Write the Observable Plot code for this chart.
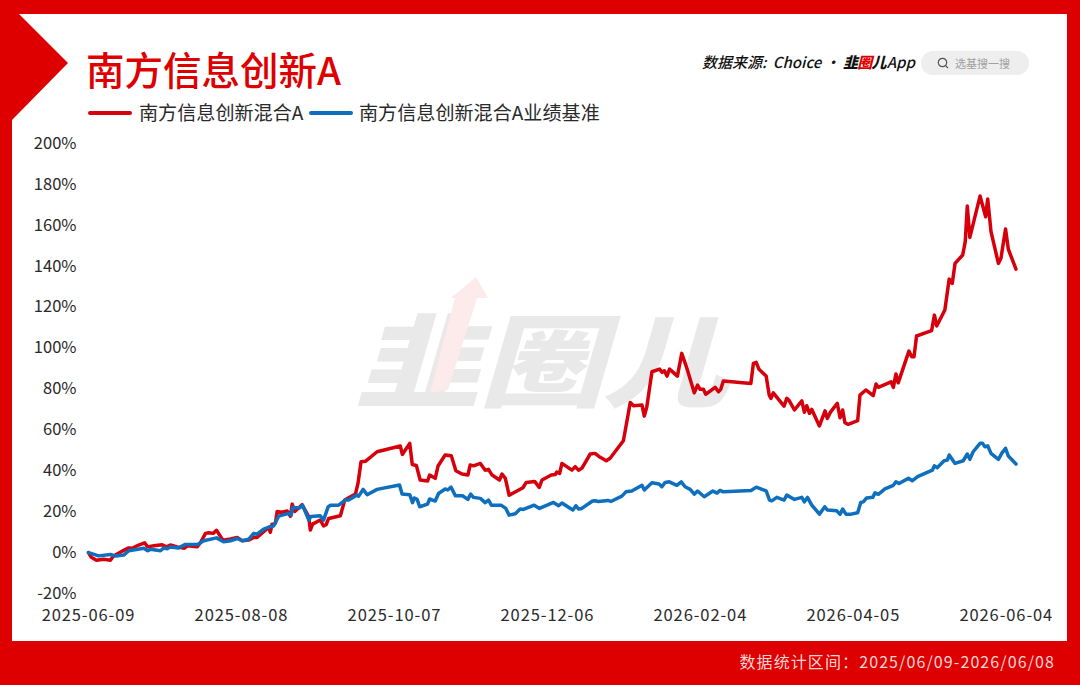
<!DOCTYPE html>
<html lang="zh">
<head>
<meta charset="utf-8">
<script src="https://cdn.jsdelivr.net/npm/d3@7"></script>
<script src="https://cdn.jsdelivr.net/npm/@observablehq/plot@0.6"></script>
<style>
html,body{margin:0;padding:0;overflow:hidden;background:#de0000;}
#page{position:relative;width:1080px;height:685px;overflow:hidden;background:#de0000;font-family:"Noto Sans CJK SC",sans-serif;}
#panel{position:absolute;left:12px;top:14px;width:1055px;height:627px;background:#fff;}
#corner{position:absolute;left:12px;top:14px;width:58px;height:108px;background:#de0000;clip-path:polygon(0 0,7px 0,56px 49px,0 106px);}
#arrow{position:absolute;left:425px;top:275px;width:70px;height:125px;}
#mark{position:absolute;left:350px;top:265px;font-size:126px;line-height:150px;font-weight:900;color:#e9e9e9;transform:skewX(-16deg) scale(1,.8);transform-origin:50% 100%;white-space:nowrap;letter-spacing:-2px;}
#chart{position:absolute;left:0;top:0;}
#title{position:absolute;left:86px;top:42px;font-size:38.5px;line-height:52px;font-weight:500;color:#de0000;white-space:nowrap;}
.key{position:absolute;top:98px;font-size:19.1px;line-height:28px;color:#2a2a2a;white-space:nowrap;}
.swatch{position:absolute;top:111px;width:44px;height:3.5px;border-radius:2px;}
#source{position:absolute;left:702px;top:51px;font-size:15px;line-height:22px;font-weight:500;font-style:italic;color:#111;white-space:nowrap;}
#source b{font-weight:900;letter-spacing:-.8px;margin-right:1px;}
#source i{color:#de0000;font-style:inherit;}
#source u{text-decoration:none;margin-left:3px;}
#pill{position:absolute;left:921px;top:51px;width:108px;height:24px;border-radius:12px;background:#eeeeee;}
#pill svg{position:absolute;left:16px;top:6px;}
#pill span{position:absolute;left:34px;top:0;font-size:11px;line-height:24px;color:#a0a0a0;white-space:nowrap;}
#range{position:absolute;right:25px;top:649px;font-size:16px;line-height:24px;color:#fbd4d4;white-space:nowrap;letter-spacing:1.1px;}
#chart g[aria-label="x-axis tick label"] text{letter-spacing:.9px;}
</style>
</head>
<body>
<div id="page">
  <div id="panel"></div>
  <div id="corner"></div>
  <div id="mark">韭圈儿</div>
  <svg id="arrow" viewBox="425 275 70 125"><polygon fill="#fdeaea" points="476,277 488,298 477,298 448,390 430,393 455,298 451,298"/></svg>
  <div id="chart"></div>
  <div id="title">南方信息创新A</div>
  <div class="swatch" style="left:88px;background:#d6000c"></div>
  <div class="key" style="left:139px">南方信息创新混合A</div>
  <div class="swatch" style="left:309px;background:#0d6fbd"></div>
  <div class="key" style="left:359px">南方信息创新混合A业绩基准</div>
  <div id="source">数据来源:<u> Choice</u> · <b>韭<i>圈</i>儿</b>App</div>
  <div id="pill"><svg width="12" height="12" viewBox="0 0 12 12"><circle cx="5.5" cy="5.5" r="4.2" fill="none" stroke="#555" stroke-width="1.2"/><line x1="8.6" y1="8.6" x2="11" y2="11" stroke="#555" stroke-width="1.2"/></svg><span>选基搜一搜</span></div>
  <div id="range">数据统计区间：2025/06/09-2026/06/08</div>
</div>
<script>
const startDate = "2025-06-09";
const endDate = "2026-06-08";
const tickDates = ["2025-06-09","2025-08-08","2025-10-07","2025-12-06","2026-02-04","2026-04-05","2026-06-04"];
const tickPercents = [-20,0,20,40,60,80,100,120,140,160,180,200];

// Days since the start date, and cumulative return in percent.
const fundDays = [0,1.1,3.1,5.9,8.6,9.8,13.2,15.8,17.1,19.7,22,23.2,25.6,28.9,30.6,32.1,34.8,37.6,38.7,42.6,43.9,45.9,47.2,48.9,50.2,52.7,55.7,58.3,60.3,62.8,64.8,66.1,68.7,70.7,71.3,72,73.3,74,75.9,77.9,79.2,79.9,80.9,83.8,86.4,87,87.9,90.9,92.2,93.2,94.2,98.8,100.5,104.7,105.7,106.9,108.6,113.2,122.3,123.1,126,127,128.6,130.1,133,133.8,136,137.1,139.9,142.3,144.1,146.5,148.8,149.7,151,153.7,155.6,156.9,158.3,161.2,162.2,163.5,165,170.4,171.7,175,176.8,177.9,181.5,183.1,183.7,184.8,185.7,189.6,190.9,192.2,193.5,196.8,198.7,200.7,203.1,204.6,209.8,210.8,212.5,213.8,217.1,218,219,221,224,225,225.9,226.9,227.9,231,232.7,234.7,237.6,238.9,239.9,241.2,242.1,245.8,247.1,248,249,259.8,260.8,261.9,263,265.8,267,267.7,268.6,272.8,273.9,274.9,276.9,279.8,280.8,281.7,282.8,283.7,286.7,288.9,289.8,290.9,293.7,294.8,295.8,296.7,298,301.7,302.6,304.9,307.8,308.9,309.8,314.8,315.7,316.7,317.6,321.8,322.9,323.8,324.8,330.7,331.8,332.7,335.9,337.6,338.8,339.9,342.9,343.9,344.7,345.7,349.7,351.9,352.7,354,356.9,357.9,359.7,360.8,363.8];
const fundReturn = [0,-2.3,-3.7,-3.3,-3.7,-1.7,0.7,2.3,2.1,3.7,4.8,2.8,3.3,3.8,2.8,3.7,2.8,2.1,3.3,2.8,4.8,9.4,9.7,9.4,10.9,6.1,6.7,7.4,5.8,6.1,7.4,7.4,10.2,12.3,9.9,13.9,14.3,20.1,19.7,20.3,17.8,23.7,20.1,23.4,17.5,11,13.9,15.9,13,13.6,16.7,18,25.7,28.6,33.8,44.4,44.6,49.3,52.1,48,53.4,43.1,42.6,35.5,35,37.9,36.3,42.3,47.7,47.3,40,38.4,37.9,42.8,42.4,43.6,40.3,40.7,37.9,35.5,38.4,36.3,28,31.7,34.3,34.8,31.9,35.5,37.9,38.2,39.4,38.7,43.6,40.3,42,40.3,41.2,48.2,48.5,46.6,44.9,46.1,54.7,61.5,73.4,71.8,72.1,66.7,71.3,88.4,89.7,88.1,88.9,86.3,89.7,86.3,97.4,90.1,78.1,81.9,79.8,79.8,77.4,80.8,78.6,79.8,83.9,82.7,92.5,93,89.6,86.3,77,75.4,78.1,71.6,75.4,74.2,69.7,74.2,68.6,71.8,68.1,70,61.9,69.3,65.6,68.4,73,65.9,69.7,63.5,62.7,64.5,77,79.5,76.7,82.4,80.8,83.5,80.8,87.3,83,98.5,95.7,95.7,105.9,108.5,116.1,110.8,118.6,133.7,131.6,141.4,145.5,152,169.4,154.1,174.3,164.2,172.9,156.9,141.4,143.9,158.2,148.3,138.6];

const benchDays = [0,4,8.6,10.6,13.8,15.8,21.7,23.2,24.3,28.2,29.5,30.9,32.1,35.4,38,42.8,45.2,50.2,53,55.7,58.3,60.3,62.8,64.8,66.1,68.7,71.1,72.6,74.6,78.5,79.5,80.1,82.8,84,86.4,87.3,90.9,92.2,94,95.1,98.1,100.7,102,105.3,106,107.7,109.3,113.2,122,123,126,127.1,127.8,128.9,129.9,133,133.8,136,137.3,139.9,140.9,142.2,143.9,146.7,148.8,149.9,151,153.7,155.6,156.9,158,161.8,163.7,165,167.4,169.3,170.6,174.8,176.9,182.4,184.4,185.7,190,191.2,192.2,193.5,197.7,198.7,200,203.7,204.9,209.2,210.8,213.1,217.1,218,221,223.8,224.9,226.2,227.8,230.8,232.5,234,236,237.6,238.9,241.5,244.9,246.5,247.7,249,259.9,261.9,265.8,267.1,268,270,272.8,273.9,276.9,279.8,280.8,282,283.7,286.7,288.8,289.8,293.5,294.8,295.8,297.1,298.7,301.7,302.9,303.9,305.2,307.6,308.5,309.8,312.4,315.7,316.7,317.9,321.6,323.1,325.2,331,331.8,332.9,335.6,336.9,337.6,339.9,343.1,344.7,345.7,347,349.7,350.7,351.6,352.7,354,356.9,358.2,359.7,360.8,363.8];
const benchReturn = [0,-1.6,-0.9,-1.7,-1.2,0.9,2.1,0.9,1.6,0.9,2.2,1.9,2.7,2.3,4,4,5.8,7.2,5.3,5.8,6.9,5.8,6.5,9.4,9,11.5,12.6,13,17.8,19.2,18.3,22.1,21.8,23.1,15.9,17.7,18,15.9,22.4,23.2,23.2,25.7,25.7,28.1,27.6,30.9,28.3,30.9,33,28.6,28.3,24.4,26.7,26,22.4,23.7,26.2,25.2,28.9,31.1,30.6,32,27.8,27.8,26,28.6,27,26.5,24.4,25.7,23.2,23.2,21.6,18.3,19,21.3,21.1,23.2,21.6,24.5,22.9,24.2,20.8,22.9,21.3,21.6,25.2,25.3,25,25.5,25,27.6,29.7,30.1,32.9,30.6,34.1,33.5,32.2,34.3,34.6,32.9,34.6,32.2,30.9,28.6,30.1,27.3,30.1,29.1,30.4,29.7,30.4,32,30.2,25.7,25.3,27,25.7,28.1,26,27,24.8,27,23.2,18.8,22.4,20.8,20.4,18.7,21.3,18.8,18.7,19.5,24.5,24.8,26.7,27,29.2,28.5,31.1,32.9,34.6,33.8,36.3,35.1,37.1,40.3,42.4,41.5,44.9,45.2,47.7,43.6,44.9,48.2,45.6,49.3,53.4,53.4,51.7,52.2,48.5,45.6,48.5,51,47.2,43.3];

const dayToDate = d => new Date(Date.parse(startDate) + d * 864e5);
const toRows = (days, values) => days.map((d, i) => ({date: dayToDate(d), value: values[i]}));
const fundRows = toRows(fundDays, fundReturn);
const benchRows = toRows(benchDays, benchReturn);
const axisFont = {fontSize: 16.5, fill: "#2a2a2a", fontFamily: '"Noto Sans CJK SC",sans-serif'};

const plot = Plot.plot({
  width: 1080,
  height: 685,
  marginLeft: 88,
  marginRight: 64,
  marginTop: 143,
  marginBottom: 92,
  style: {background: "transparent", fontFamily: '"Noto Sans CJK SC",sans-serif'},
  x: {type: "utc", domain: [new Date(startDate), new Date(endDate)]},
  y: {domain: [-20, 200]},
  marks: [
    Plot.axisY({ticks: tickPercents, tickSize: 0, tickPadding: 12, tickFormat: d => d + "%", label: null, ...axisFont}),
    Plot.axisX({ticks: tickDates.map(d => new Date(d)), tickSize: 0, tickPadding: 16, tickFormat: d3.utcFormat("%Y-%m-%d"), label: null, ...axisFont}),
    Plot.line(fundRows, {x: "date", y: "value", stroke: "#d6000c", strokeWidth: 3.5, curve: "linear"}),
    Plot.line(benchRows, {x: "date", y: "value", stroke: "#0d6fbd", strokeWidth: 3.5, curve: "linear"})
  ]
});
document.getElementById("chart").appendChild(plot);
</script>
</body>
</html>
